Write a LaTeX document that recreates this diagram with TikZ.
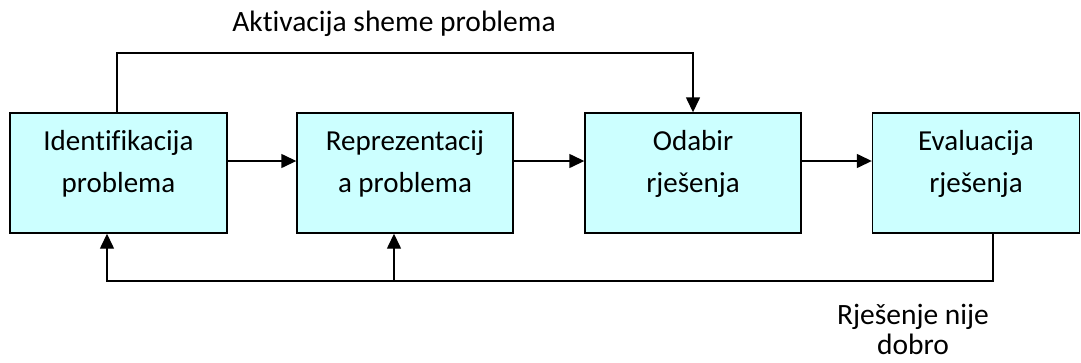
\documentclass[tikz,border=0pt]{standalone}
\usepackage{fontspec}
\setmainfont{Carlito}[Ligatures=NoCommon]
\usetikzlibrary{arrows.meta}
\definecolor{boxfill}{RGB}{204,255,255}
\newcommand\twolines[2]{\begin{tabular}[t]{@{}c@{}}#1\\#2\end{tabular}}
\begin{document}
\begin{tikzpicture}[x=1pt,y=-1pt,
  box/.style={draw=black, fill=boxfill, line width=1.4pt, minimum height=120pt, inner sep=0pt,
    text height=37.7pt, text depth=82.3pt, font=\fontsize{29}{42}\selectfont},
  lbl/.style={inner sep=0pt, font=\fontsize{29.5}{30}\selectfont, align=center},
  conn/.style={line width=1.4pt},
  arr/.style={conn, -{Triangle[length=15pt,width=14pt]}}]
\useasboundingbox (0,0) rectangle (1081,362);
\node[box, minimum width=217pt] (b1) at (118.5,173) {\twolines{Identifikacija}{problema}};
\node[box, minimum width=216pt] (b2) at (405,173) {\twolines{Reprezentacij}{a problema}};
\node[box, minimum width=216pt] (b3) at (693,173) {\twolines{Odabir}{rješenja}};
\node[box, minimum width=207pt] (b4) at (976,173) {\twolines{Evaluacija}{rješenja}};
\node[lbl, anchor=base] (top) at (394,31) {Aktivacija sheme problema};
\node[lbl, anchor=base] (bot) at (913,354) {Rješenje nije\\dobro};
\coordinate (t1) at (117,53);
\coordinate (t2) at (693,53);
\coordinate (u1) at (993,281);
\coordinate (u2) at (107,281);
\coordinate (u3) at (394,281);
\draw[arr] (b1.east |- 0,161) -- (b2.west |- 0,161);
\draw[arr] (b2.east |- 0,161) -- (b3.west |- 0,161);
\draw[arr] (b3.east |- 0,161) -- (b4.west |- 0,161);
\draw[arr] (b1.north -| t1) -- (t1) -- (t2) -- (b3.north -| t2);
\draw[arr] (b4.south -| u1) -- (u1) -- (u2) -- (b1.south -| u2);
\draw[arr] (u3) -- (b2.south -| u3);
\end{tikzpicture}
\end{document}
